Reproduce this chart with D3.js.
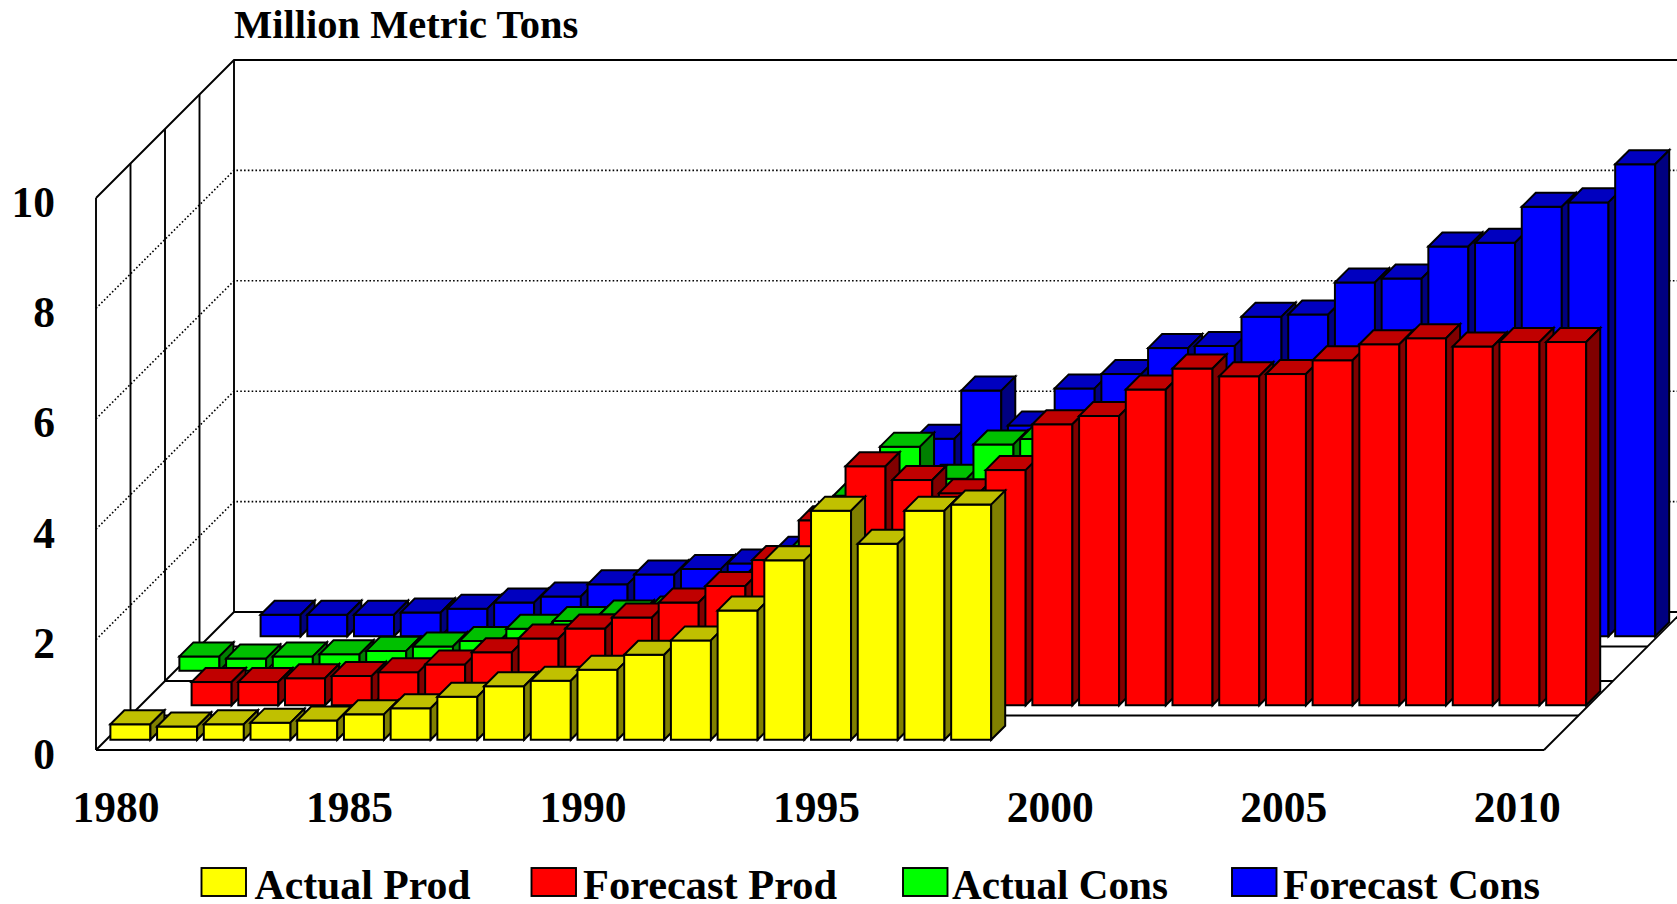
<!DOCTYPE html>
<html>
<head>
<meta charset="utf-8">
<script src="https://cdn.jsdelivr.net/npm/d3@7"></script>
<style>
html, body { margin: 0; padding: 0; background: #fff; }
svg { display: block; }
text { font-family: "Liberation Serif", serif; font-weight: bold; fill: #000; }
</style>
</head>
<body>
<div id="graphic"></div>
<script>
var years = d3.range(1980, 2011);
var yTicks = [0, 2, 4, 6, 8, 10];
var xTicks = [1980, 1985, 1990, 1995, 2000, 2005, 2010];
var seriesNames = ["Actual Prod", "Forecast Prod", "Actual Cons", "Forecast Cons"];
var title = "Million Metric Tons";

// values start at 1980, missing years are left off the end or null
var actualProd = [.28, .24, .28, .31, .35, .46, .57, .78, .97, 1.07, 1.27, 1.54, 1.80, 2.34, 3.25, 4.15, 3.55, 4.15, 4.26];
var forecastProd = [null, .42, .42, .49, .53, .6, .74, .96, 1.21, 1.39, 1.59, 1.86, 2.16, 2.63, 3.35, 4.33, 4.08, 3.84, 4.26, 5.09, 5.24, 5.72, 6.1, 5.96, 6.0, 6.25, 6.54, 6.65, 6.5, 6.58, 6.58];
var actualCons = [.26, .22, .26, .30, .36, .44, .54, .76, .90, 1.02, 1.09, 1.2, 1.63, 2.15, 3.17, 4.06, 3.48, 4.1, 4.2];
var forecastCons = [null, .39, .39, .39, .43, .5, .61, .72, .94, 1.12, 1.22, 1.32, 1.55, 1.9, 2.6, 3.58, 4.45, 3.82, 4.49, 4.75, 5.22, 5.26, 5.79, 5.83, 6.41, 6.48, 7.06, 7.13, 7.78, 7.86, 8.55];

var seriesValues = [actualProd, forecastProd, actualCons, forecastCons];
var frontColors = ["#ffff00", "#ff0000", "#00ff00", "#0000ff"];
var topColors = ["#c0c000", "#c00000", "#00c000", "#0000c0"];
var sideColors = ["#808000", "#800000", "#008000", "#000080"];

var width = 1677, height = 904;
var floorY = 750, left = 96, right = 1544, wallDepth = 138, wallHeight = 552;

var svg = d3.select("#graphic")
    .append("svg")
    .attr("width", width)
    .attr("height", height);

var x = d3.scaleBand().domain(years).range([left, right]).paddingInner(.143).paddingOuter(.0715);
var y = d3.scaleLinear().domain([0, 10]).range([floorY, floorY - wallHeight]);
var depth = d3.scaleBand().domain(d3.range(4)).range([0, wallDepth]).paddingInner(.594).paddingOuter(.297);

// dotted gridlines, side wall then back wall
var grid = svg.append("g").attr("fill", "none").attr("stroke", "#000");
yTicks.filter(function(d) { return d > 0 && d < 10; }).forEach(function(d) {
    grid.append("path")
        .attr("d", "M" + left + "," + y(d) + "L" + (left + wallDepth) + "," + (y(d) - wallDepth) + "H" + width)
        .attr("stroke-width", 1.6)
        .attr("stroke-dasharray", "1.6 2.2");
});

// walls and floor
var walls = svg.append("g").attr("fill", "none").attr("stroke", "#000").attr("stroke-width", 1.9);
d3.range(5).forEach(function(k) {
    var step = wallDepth / 4 * k;
    walls.append("path").attr("d", "M" + (left + step) + "," + (floorY - step) + "H" + (right + step));
    walls.append("path").attr("d", "M" + (left + step) + "," + (floorY - step) + "V" + (y(10) - step));
});
walls.append("path").attr("d", "M" + left + "," + floorY + "L" + (left + wallDepth) + "," + (floorY - wallDepth));
walls.append("path").attr("d", "M" + right + "," + floorY + "L" + (right + wallDepth) + "," + (floorY - wallDepth));
walls.append("path").attr("d", "M" + left + "," + y(10) + "L" + (left + wallDepth) + "," + (y(10) - wallDepth) + "H" + width);

// bars, back row first and left to right inside a row
d3.range(3, -1, -1).forEach(function(s) {
    var data = [];
    seriesValues[s].forEach(function(v, i) {
        if (v !== null) data.push({ year: years[i], value: v });
    });

    var off = depth(s);
    var d0 = depth.bandwidth();
    var bar = svg.append("g")
        .attr("transform", "translate(0.8,0)")
        .attr("stroke", "#000")
        .attr("stroke-width", 2)
        .attr("stroke-linejoin", "miter")
        .selectAll("g")
        .data(data)
        .enter().append("g");

    bar.append("rect")
        .attr("x", function(d) { return x(d.year) + off; })
        .attr("y", function(d) { return y(d.value) - off; })
        .attr("width", x.bandwidth())
        .attr("height", function(d) { return y(0) - y(d.value); })
        .attr("fill", frontColors[s]);

    bar.append("path")
        .attr("d", function(d) {
            var x0 = x(d.year) + off, yt = y(d.value) - off;
            return "M" + x0 + "," + yt + "l" + d0 + "," + (-d0) + "h" + x.bandwidth() + "l" + (-d0) + "," + d0 + "z";
        })
        .attr("fill", topColors[s]);

    bar.append("path")
        .attr("d", function(d) {
            var x1 = x(d.year) + off + x.bandwidth(), yt = y(d.value) - off;
            return "M" + x1 + "," + yt + "l" + d0 + "," + (-d0) + "v" + (y(0) - y(d.value)) + "l" + (-d0) + "," + d0 + "z";
        })
        .attr("fill", sideColors[s]);
});

// axes
var yAxis = svg.append("g")
    .attr("transform", "translate(55,0)")
    .call(d3.axisLeft(y).tickValues(yTicks).tickSize(0).tickPadding(0));
yAxis.select(".domain").remove();
yAxis.selectAll("text")
    .attr("dy", "18px")
    .style("font-family", "'Liberation Serif', serif")
    .style("font-weight", "bold")
    .style("font-size", "43.5px");

var xAxis = svg.append("g")
    .attr("transform", "translate(-3.4,772)")
    .call(d3.axisBottom(x).tickValues(xTicks).tickSize(0).tickPadding(0));
xAxis.select(".domain").remove();
xAxis.selectAll("text")
    .attr("y", 0)
    .attr("dy", "50px")
    .style("font-family", "'Liberation Serif', serif")
    .style("font-weight", "bold")
    .style("font-size", "43.5px");

svg.append("text")
    .attr("x", left + wallDepth)
    .attr("y", 37.5)
    .attr("font-size", 40.5)
    .text(title);

// legend
var legendSwatchX = [201.5, 531.5, 903, 1232];
var legendTextX = [254.5, 583, 952, 1283];
var legendTextW = [216, 254, 216, 257];
var legend = svg.append("g")
    .selectAll("g")
    .data(seriesNames)
    .enter().append("g");

legend.append("rect")
    .attr("x", function(d, i) { return legendSwatchX[i]; })
    .attr("y", 868)
    .attr("width", 44.5)
    .attr("height", 28)
    .attr("fill", function(d, i) { return frontColors[i]; })
    .attr("stroke", "#000")
    .attr("stroke-width", 1.9);

legend.append("text")
    .attr("x", function(d, i) { return legendTextX[i]; })
    .attr("y", 899.3)
    .attr("font-size", 42)
    .attr("textLength", function(d, i) { return legendTextW[i]; })
    .attr("lengthAdjust", "spacingAndGlyphs")
    .text(function(d) { return d; });
</script>
</body>
</html>
